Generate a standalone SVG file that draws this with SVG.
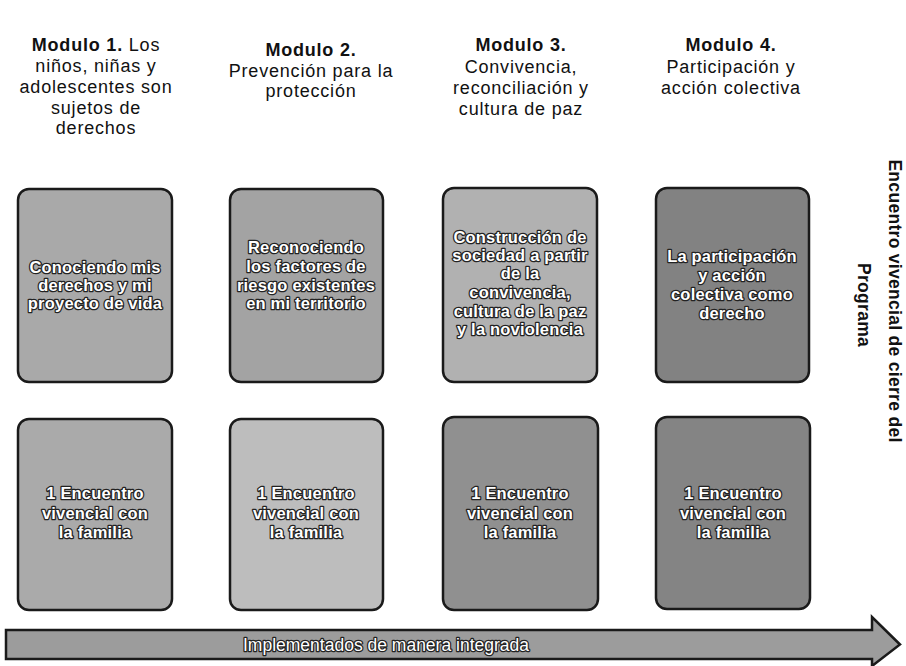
<svg xmlns="http://www.w3.org/2000/svg" width="906" height="666" viewBox="0 0 906 666">
<style>
.hdr{font-family:"Liberation Sans",Arial,sans-serif;font-size:18px;fill:#111;text-anchor:middle;letter-spacing:0.8px}
.hdr .b{font-weight:bold}
.box{stroke:#1a1a1a;stroke-width:2.5}
.bt{font-family:"Liberation Sans",Arial,sans-serif;font-size:16.5px;font-weight:bold;fill:#fff;stroke:#222;stroke-width:2.5;paint-order:stroke;stroke-linejoin:round;text-anchor:middle;letter-spacing:0.2px}
.vt{font-family:"Liberation Sans",Arial,sans-serif;font-size:17.5px;font-weight:bold;fill:#111;text-anchor:middle;letter-spacing:0.3px}
.at{font-family:"Liberation Sans",Arial,sans-serif;font-size:17.5px;fill:#fff;stroke:#222;stroke-width:2.5;paint-order:stroke;stroke-linejoin:round;text-anchor:middle}
</style>
<rect width="906" height="666" fill="#fff"/>

<g id="header-1" class="hdr">
<text x="96" y="51"><tspan class="b">Modulo 1.</tspan> Los</text>
<text x="96" y="72">niños, niñas y</text>
<text x="96" y="93">adolescentes son</text>
<text x="96" y="114">sujetos de</text>
<text x="96" y="134">derechos</text>
</g>
<g id="header-2" class="hdr">
<text x="311" y="56" class="b">Modulo 2.</text>
<text x="311" y="77">Prevención para la</text>
<text x="311" y="97">protección</text>
</g>
<g id="header-3" class="hdr">
<text x="521" y="51" class="b">Modulo 3.</text>
<text x="521" y="73">Convivencia,</text>
<text x="521" y="94">reconciliación y</text>
<text x="521" y="115">cultura de paz</text>
</g>
<g id="header-4" class="hdr">
<text x="731" y="51" class="b">Modulo 4.</text>
<text x="731" y="73">Participación y</text>
<text x="731" y="94">acción colectiva</text>
</g>

<g id="m1-top">
<rect class="box" x="18" y="189" width="154" height="193" rx="11" fill="#a9a9a9"/>
<text class="bt" x="95" y="273">Conociendo mis</text>
<text class="bt" x="95" y="291">derechos y mi</text>
<text class="bt" x="95" y="309">proyecto de vida</text>
</g>
<g id="m2-top">
<rect class="box" x="230" y="189" width="153" height="193" rx="11" fill="#a3a3a3"/>
<text class="bt" x="306" y="253">Reconociendo</text>
<text class="bt" x="306" y="272">los factores de</text>
<text class="bt" x="306" y="291">riesgo existentes</text>
<text class="bt" x="306" y="309">en mi territorio</text>
</g>
<g id="m3-top">
<rect class="box" x="443" y="188" width="154" height="194" rx="11" fill="#b1b1b1"/>
<text class="bt" x="520" y="243">Construcción de</text>
<text class="bt" x="520" y="261">sociedad a partir</text>
<text class="bt" x="520" y="279">de la</text>
<text class="bt" x="520" y="298">convivencia,</text>
<text class="bt" x="520" y="317">cultura de la paz</text>
<text class="bt" x="520" y="335">y la noviolencia</text>
</g>
<g id="m4-top">
<rect class="box" x="656" y="188" width="153" height="194" rx="11" fill="#828282"/>
<text class="bt" x="732" y="262">La participación</text>
<text class="bt" x="732" y="281">y acción</text>
<text class="bt" x="732" y="300">colectiva como</text>
<text class="bt" x="732" y="319">derecho</text>
</g>

<g id="m1-bottom">
<rect class="box" x="18" y="419" width="154" height="191" rx="11" fill="#aaaaaa"/>
<text class="bt" x="95" y="499">1 Encuentro</text>
<text class="bt" x="95" y="519">vivencial con</text>
<text class="bt" x="95" y="538">la familia</text>
</g>
<g id="m2-bottom">
<rect class="box" x="230" y="419" width="153" height="191" rx="11" fill="#bdbdbd"/>
<text class="bt" x="306" y="499">1 Encuentro</text>
<text class="bt" x="306" y="519">vivencial con</text>
<text class="bt" x="306" y="538">la familia</text>
</g>
<g id="m3-bottom">
<rect class="box" x="443" y="417" width="155" height="193" rx="11" fill="#909090"/>
<text class="bt" x="520" y="499">1 Encuentro</text>
<text class="bt" x="520" y="519">vivencial con</text>
<text class="bt" x="520" y="538">la familia</text>
</g>
<g id="m4-bottom">
<rect class="box" x="656" y="417" width="154" height="192" rx="11" fill="#848484"/>
<text class="bt" x="733" y="499">1 Encuentro</text>
<text class="bt" x="733" y="519">vivencial con</text>
<text class="bt" x="733" y="538">la familia</text>
</g>

<g id="closing-encounter">
<text class="vt" transform="translate(889,301) rotate(90)" x="0" y="0">Encuentro vivencial de cierre del</text>
<text class="vt" transform="translate(858,305) rotate(90)" x="0" y="0">Programa</text>
</g>

<g id="connectors">
<g id="timeline-arrow">
<path d="M6 630 H872 V617 L900 644.5 L872 666 V659 H6 Z" fill="#9c9c9c" stroke="#1a1a1a" stroke-width="2.5" stroke-linejoin="miter"/>
<text class="at" x="386" y="651">Implementados de manera integrada</text>
</g>
</g>
</svg>
